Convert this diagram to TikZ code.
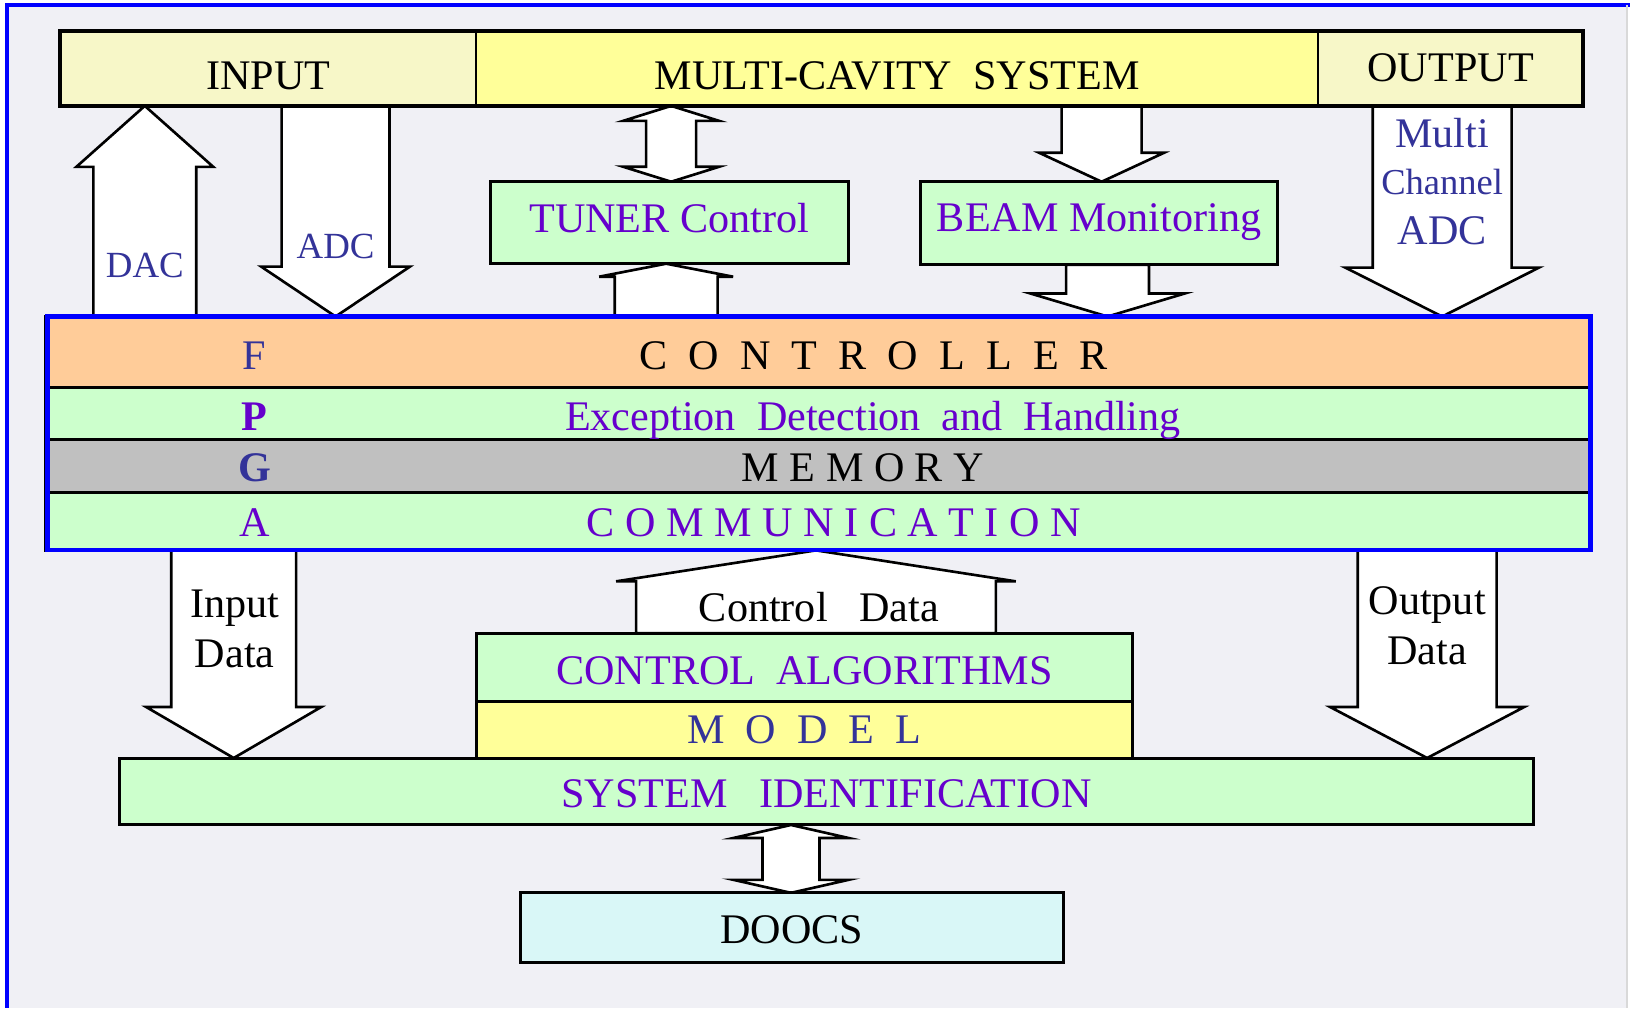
\documentclass[tikz,border=0pt]{standalone}
\usepackage{fontspec}
\setmainfont{Liberation Serif}
\usetikzlibrary{calc}

\definecolor{bg}{RGB}{240,240,245}
\definecolor{paleyel}{RGB}{247,247,200}
\definecolor{yel}{RGB}{255,255,153}
\definecolor{grn}{RGB}{204,255,204}
\definecolor{org}{RGB}{255,204,153}
\definecolor{gry}{RGB}{192,192,192}
\definecolor{cyn}{RGB}{217,247,247}
\definecolor{purp}{RGB}{102,0,204}
\definecolor{navy}{RGB}{51,51,153}

\pgfdeclarelayer{paper}
\pgfdeclarelayer{arrows}
\pgfsetlayers{paper,arrows,main}

% text whose baseline sits #1 below the node centre
\newcommand{\txtdown}[2]{\raisebox{-#1}[0pt][0pt]{#2}}

% block arrow: tail, tip, shaft half width, head half width, head length
\newcommand{\fatarrow}[5]{%
  \draw[fat] let \p1=(#1), \p2=(#2), \n1={ifthenelse(\y2>\y1,1,-1)} in
    ({\x2-#3},\y1) -- ({\x2-#3},{\y2-(\n1)*(#5)}) -- ({\x2-#4},{\y2-(\n1)*(#5)}) -- (\x2,\y2)
    -- ({\x2+#4},{\y2-(\n1)*(#5)}) -- ({\x2+#3},{\y2-(\n1)*(#5)}) -- ({\x2+#3},\y1) -- cycle;}

% block arrow with a head at both ends
\newcommand{\dblarrow}[5]{%
  \draw[fat] let \p1=(#1), \p2=(#2), \n1={ifthenelse(\y2>\y1,1,-1)} in
    (\x1,\y1) -- ({\x1+#4},{\y1+(\n1)*(#5)}) -- ({\x1+#3},{\y1+(\n1)*(#5)})
    -- ({\x1+#3},{\y2-(\n1)*(#5)}) -- ({\x1+#4},{\y2-(\n1)*(#5)}) -- (\x1,\y2)
    -- ({\x1-#4},{\y2-(\n1)*(#5)}) -- ({\x1-#3},{\y2-(\n1)*(#5)})
    -- ({\x1-#3},{\y1+(\n1)*(#5)}) -- ({\x1-#4},{\y1+(\n1)*(#5)}) -- cycle;}

\begin{document}
\begin{tikzpicture}[x=0.01cm, y=-0.01cm, line join=miter,
    every node/.style={font=\fontsize{12pt}{14pt}\selectfont, inner sep=0pt, outer sep=0pt}]
    \tikzstyle{box}=[draw=black, line width=0.85pt]
    \tikzstyle{fat}=[draw=black, fill=white, line width=0.75pt]
    \tikzstyle{lbl}=[anchor=base]
    \tikzstyle{small}=[font=\fontsize{10.5pt}{12pt}\selectfont]

    % paper and frame
    \begin{pgfonlayer}{paper}
        \fill[white] (0,0) rectangle (1632,1009);
        \fill[bg] (7,5) rectangle (1629,1009);
        \draw[blue, line width=1.2pt] (7,1009) -- (7,5) -- (1632,5);
        \draw[gray!30, line width=0.6pt] (1629,5) -- (1629,1009);
    \end{pgfonlayer}

    % cavity system bar
    \node[box, line width=0.6pt, fill=paleyel, minimum width=4.17cm, minimum height=0.75cm] (in) at (268.5,68.5) {\txtdown{2.15mm}{INPUT}};
    \node[box, line width=0.6pt, fill=yel, minimum width=8.43cm, minimum height=0.75cm] (mcs) at (898.5,68.5) {\txtdown{2.15mm}{MULTI-CAVITY\ \ SYSTEM}};
    \node[box, line width=0.6pt, fill=paleyel, minimum width=2.65cm, minimum height=0.75cm] (out) at (1452.5,68.5) {\txtdown{1.35mm}{OUTPUT}};
    \draw[line width=1.3pt] (in.north west) rectangle (out.south east);

    \node[box, fill=grn, text=purp, minimum width=3.58cm, minimum height=0.82cm] (tuner) at (670,223) {\txtdown{1mm}{TUNER Control}};
    \node[box, fill=grn, text=purp, minimum width=3.57cm, minimum height=0.83cm] (beam) at (1100.5,223.5) {\txtdown{0.85mm}{BEAM Monitoring}};

    % FPGA layers
    \foreach \row/\y/\h/\col in {ctl/352.5/0.71/org, exc/414/0.52/grn, mem/466.5/0.53/gry, com/522/0.58/grn}
        \node[box, fill=\col, minimum width=15.46cm, minimum height=\h cm] (\row) at (819,\y) {};
    \node[draw=blue, line width=1.2pt, minimum width=15.44cm, minimum height=2.34cm] (fpga) at (820,434) {};

    \foreach \row/\y/\ch/\chc/\x/\txt/\txc in {
            ctl/370/F/navy/875/{C\ \ O\ \ N\ \ T\ \ R\ \ O\ \ L\ \ L\ \ E\ \ R}/black,
            exc/431/\textbf{P}/purp/874/{Exception\ \ Detection\ \ and\ \ Handling}/purp,
            mem/482/\textbf{G}/navy/864/{M E M O R Y}/black,
            com/537/A/purp/835/{C O M M U N I C A T I O N}/purp}
    {
        \node[lbl, text=\chc] (\row-ch) at (255,\y) {\ch};
        \node[lbl, text=\txc] (\row-txt) at (\x,\y) {\txt};
    }

    % host side
    \node[box, fill=grn, text=purp, minimum width=6.57cm, minimum height=0.68cm] (alg) at (805.5,668) {\txtdown{1.7mm}{CONTROL\ \ ALGORITHMS}};
    \node[box, fill=yel, text=navy, minimum width=6.57cm, minimum height=0.57cm] (model) at (805.5,730.5) {\txtdown{1.35mm}{M\ \ O\ \ D\ \ E\ \ L}};
    \node[box, fill=grn, text=purp, minimum width=14.15cm, minimum height=0.67cm] (sid) at (827.5,792.5) {\txtdown{1.65mm}{SYSTEM\ \ \ IDENTIFICATION}};
    \node[box, fill=cyn, minimum width=5.44cm, minimum height=0.70cm] (doocs) at (793,929) {\txtdown{1.6mm}{DOOCS}};

    % block arrows between the boxes
    \begin{pgfonlayer}{arrows}
        \fatarrow{145,0 |- fpga.north}{145,0 |- in.south}{0.515cm}{0.685cm}{0.61cm}
        \fatarrow{336,0 |- in.south}{336,0 |- fpga.north}{0.54cm}{0.745cm}{0.5cm}
        \dblarrow{672,0 |- mcs.south}{672,0 |- tuner.north}{0.25cm}{0.48cm}{0.15cm}
        \fatarrow{667,0 |- fpga.north}{667,0 |- tuner.south}{0.515cm}{0.67cm}{0.13cm}
        \fatarrow{1103,0 |- mcs.south}{1103,0 |- beam.north}{0.4cm}{0.625cm}{0.29cm}
        \fatarrow{1109,0 |- beam.south}{1109,0 |- fpga.north}{0.415cm}{0.77cm}{0.23cm}
        \fatarrow{1444,0 |- out.south}{1444,0 |- fpga.north}{0.695cm}{0.97cm}{0.49cm}
        \fatarrow{234,0 |- fpga.south}{234,0 |- sid.north}{0.625cm}{0.875cm}{0.51cm}
        \fatarrow{817,0 |- alg.north}{817,0 |- fpga.south}{1.8cm}{2.0cm}{0.31cm}
        \fatarrow{1429,0 |- fpga.south}{1429,0 |- sid.north}{0.695cm}{0.97cm}{0.51cm}
        \dblarrow{792,0 |- sid.south}{792,0 |- doocs.north}{0.285cm}{0.575cm}{0.13cm}
    \end{pgfonlayer}

    % arrow labels
    \node[lbl, small, text=navy] (dac) at (145,278) {DAC};
    \node[lbl, small, text=navy] (adc) at (336,259) {ADC};
    \node[lbl, text=navy] (mc-1) at (1444,148) {Multi};
    \node[lbl, text=navy, font=\fontsize{10.4pt}{12pt}\selectfont] (mc-2) at (1444,195) {Channel};
    \node[lbl, text=navy] (mc-3) at (1444,245) {ADC};
    \node[lbl] (ind-1) at (235,618) {Input};
    \node[lbl] (ind-2) at (235,668) {Data};
    \node[lbl] (ctrld) at (820,622) {Control\ \ \ Data};
    \node[lbl] (outd-1) at (1429,615) {Output};
    \node[lbl] (outd-2) at (1429,665) {Data};
\end{tikzpicture}
\end{document}
